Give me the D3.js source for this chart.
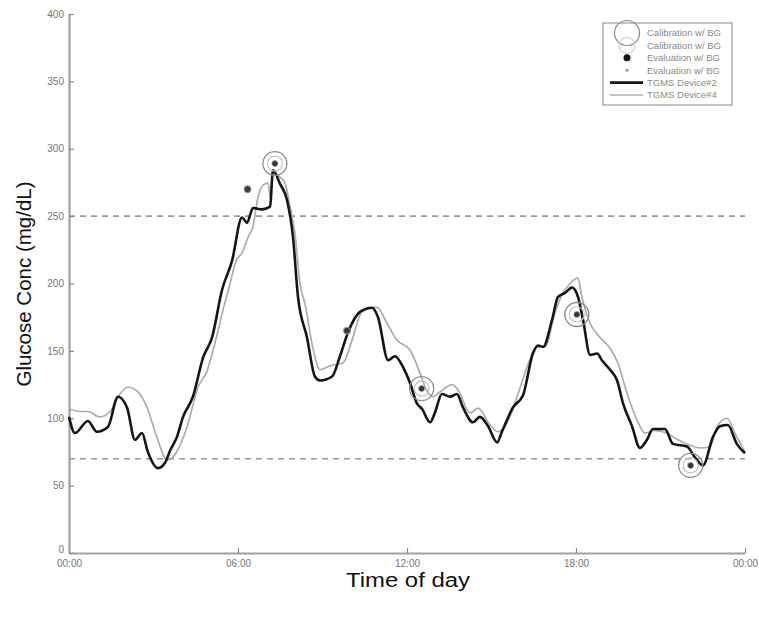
<!DOCTYPE html>
<html><head><meta charset="utf-8">
<script src="https://cdn.jsdelivr.net/npm/d3@7"></script>
<style>
body{margin:0;background:#fff;}
svg{display:block;font-family:"Liberation Sans",Arial,sans-serif;}
</style></head>
<body>
<svg id="chart" width="759" height="622"></svg>
<script>
// ---- data ----
const xTickValues = [0, 6, 12, 18, 24];
const xTickLabels = ["00:00", "06:00", "12:00", "18:00", "00:00"];
const yTickValues = [0, 50, 100, 150, 200, 250, 300, 350, 400];
const thresholds = [250, 70];

const dev2Hours = [0.00,0.21,0.67,0.99,1.38,1.74,2.06,2.34,2.59,2.80,3.16,3.41,3.59,3.83,4.05,4.40,4.76,5.08,5.43,5.79,6.14,6.32,6.53,6.85,7.14,7.24,7.49,7.74,7.95,8.13,8.45,8.73,8.91,9.34,9.62,9.91,10.33,10.76,10.97,11.33,11.57,11.86,12.11,12.35,12.53,12.82,12.99,13.24,13.53,13.77,13.99,14.34,14.59,14.88,15.20,15.37,15.76,16.12,16.47,16.65,16.83,17.15,17.36,17.61,17.86,18.07,18.25,18.50,18.75,18.92,19.21,19.46,19.67,19.99,20.27,20.52,20.73,21.16,21.44,21.94,22.22,22.51,22.86,23.11,23.39,23.71,24.00];
const dev2Values = [101,89,98,90,93.5,116,108,84,89,75,63,67,76,86,101,116,145,160,195,217,249,245,256,255,257,284,274,262,235,190,160,131,128,131,146,164,179,182,175,143,146,138,126,111,107,97,104,118,116,118,108,97,101,94,82,90,108,117,148,154,153,173,190,193,197,190,173,147,148,143,136,128,111,94,78,84,92,92,81,79,71,65,86,94,95,81,74];

const dev4Hours = [0.00,0.39,0.67,1.10,1.46,1.74,2.09,2.45,2.77,3.12,3.48,3.76,4.19,4.58,4.90,5.11,5.29,5.50,5.72,5.93,6.14,6.36,6.53,6.71,6.89,7.07,7.14,7.24,7.49,7.67,7.85,8.02,8.20,8.38,8.66,8.91,9.16,9.37,9.73,10.05,10.40,10.93,11.29,11.64,12.11,12.46,12.67,12.92,13.17,13.60,13.81,14.24,14.52,14.95,15.23,15.55,15.91,16.26,16.62,16.90,17.25,17.50,17.79,18.07,18.21,18.50,18.85,19.21,19.49,19.81,20.17,20.45,20.80,21.22,21.62,22.04,22.40,22.75,23.00,23.36,23.64,24.00];
const dev4Values = [107,105,105,101,105,116,123,119.5,108,86,69,73,93.5,123,135,150,165,183,200,217,222.5,234.5,242,264,273,274.5,264,282,279,274.5,257,237.5,200,185,152,136,138,139.5,141,158,179,182.5,170.5,158,150.6,133.5,122,116,119.5,125,121,104,107.5,95,90,96.5,116,138,153,153,178,191.5,200,204,190,170.5,160,152,141,118.5,98.5,89,91,89,84,80,78,78.5,93.5,100,89,75];

const calibHours = [7.31, 12.52, 18.03, 22.07];
const calibValues = [289, 122, 177, 65];
const evalHours = [6.34, 9.87];
const evalValues = [270, 165];

const legendLabels = ["Calibration w/ BG", "Calibration w/ BG", "Evaluation w/ BG", "Evaluation w/ BG", "TGMS Device#2", "TGMS Device#4"];

// ---- chart ----
const svg = d3.select("#chart");
const x = d3.scaleLinear().domain([0, 24]).range([69, 745]);
const y = d3.scaleLinear().domain([0, 400]).range([553, 14]);

// threshold dashed lines
svg.selectAll("line.thr").data(thresholds).enter().append("line")
  .attr("x1", x(0)).attr("x2", x(24))
  .attr("y1", d => y(d)).attr("y2", d => y(d))
  .attr("stroke", "#9a9a9a").attr("stroke-width", 1.6).attr("stroke-dasharray", "6,5");

// axes
const xAxis = d3.axisBottom(x).tickValues(xTickValues)
  .tickFormat((d, i) => xTickLabels[i]).tickSizeInner(-5).tickSizeOuter(0).tickPadding(7);
const yAxis = d3.axisLeft(y).tickValues(yTickValues)
  .tickSizeInner(-5).tickSizeOuter(0).tickPadding(5);

const gx = svg.append("g").attr("transform", `translate(0,${y(0)})`).call(xAxis);
const gy = svg.append("g").attr("transform", `translate(${x(0)},0)`).call(yAxis);
[gx, gy].forEach(g => {
  g.select(".domain").attr("stroke", "#a0a0a0").attr("stroke-width", 2.2);
  g.selectAll(".tick line").attr("stroke", "#8a8a8a").attr("stroke-width", 1.2);
  g.selectAll(".tick text").attr("fill", "#777").attr("font-size", 10)
    .attr("font-family", "Liberation Sans, Arial, sans-serif");
});
// lift the "0" label slightly so it sits above the first time label, as in the reference
gy.selectAll(".tick").filter(d => d === 0).select("text").attr("dy", "-0.1em");

// lines
const line = d3.line().x(d => x(d[0])).y(d => y(d[1])).curve(d3.curveMonotoneX);
const dev4 = dev4Hours.map((h, i) => [h, dev4Values[i]]);
const dev2 = dev2Hours.map((h, i) => [h, dev2Values[i]]);
svg.append("path").datum(dev4).attr("d", line)
  .attr("fill", "none").attr("stroke", "#acacac").attr("stroke-width", 1.7).attr("stroke-linejoin", "round");
svg.append("path").datum(dev2).attr("d", line)
  .attr("fill", "none").attr("stroke", "#151515").attr("stroke-width", 2.6).attr("stroke-linejoin", "round");

// calibration markers
const calib = calibHours.map((h, i) => [h, calibValues[i]]);
const cg = svg.selectAll("g.calib").data(calib).enter().append("g")
  .attr("transform", d => `translate(${x(d[0])},${y(d[1])})`);
cg.append("circle").attr("r", 12).attr("fill", "none").attr("stroke", "#8c8c8c").attr("stroke-width", 1.3);
cg.append("circle").attr("r", 7.5).attr("fill", "none").attr("stroke", "#c2c2c2").attr("stroke-width", 1.2);
cg.append("circle").attr("r", 3).attr("fill", "#333").attr("stroke", "#999").attr("stroke-width", 0.8);

// evaluation markers
const evals = evalHours.map((h, i) => [h, evalValues[i]]);
svg.selectAll("circle.eval").data(evals).enter().append("circle")
  .attr("cx", d => x(d[0])).attr("cy", d => y(d[1])).attr("r", 3.5)
  .attr("fill", "#3a3a3a").attr("stroke", "#999").attr("stroke-width", 1);

// legend
const lg = svg.append("g");
lg.append("rect").attr("x", 603).attr("y", 23).attr("width", 129).attr("height", 82)
  .attr("fill", "#fff").attr("stroke", "#9a9a9a").attr("stroke-width", 1.2);
const rowY = i => 33 + i * 12.4;
const sx = 627;
lg.append("circle").attr("cx", sx).attr("cy", rowY(0)).attr("r", 12.5).attr("fill", "none").attr("stroke", "#888").attr("stroke-width", 1.2);
lg.append("circle").attr("cx", sx).attr("cy", rowY(1)).attr("r", 8).attr("fill", "none").attr("stroke", "#d0d0d0").attr("stroke-width", 1.1);
lg.append("circle").attr("cx", sx).attr("cy", rowY(2)).attr("r", 3.5).attr("fill", "#111");
lg.append("circle").attr("cx", sx).attr("cy", rowY(3)).attr("r", 1.8).attr("fill", "#aaa");
lg.append("line").attr("x1", 610).attr("x2", 643).attr("y1", rowY(4)).attr("y2", rowY(4)).attr("stroke", "#151515").attr("stroke-width", 2.6);
lg.append("line").attr("x1", 610).attr("x2", 643).attr("y1", rowY(5)).attr("y2", rowY(5)).attr("stroke", "#b0b0b0").attr("stroke-width", 1.6);
lg.selectAll("text").data(legendLabels).enter().append("text")
  .attr("x", 647).attr("y", (d, i) => rowY(i) + 3.3)
  .attr("font-size", 9.5).attr("fill", "#8a8a8a").text(d => d);

// axis titles
svg.append("text").attr("x", 408).attr("y", 587).attr("text-anchor", "middle")
  .attr("font-size", 20).attr("textLength", 124).attr("lengthAdjust", "spacingAndGlyphs")
  .attr("fill", "#111").text("Time of day");
svg.append("text").attr("transform", "translate(31,284) rotate(-90)").attr("text-anchor", "middle")
  .attr("font-size", 20.5).attr("fill", "#111").text("Glucose Conc (mg/dL)");
</script>
</body></html>
